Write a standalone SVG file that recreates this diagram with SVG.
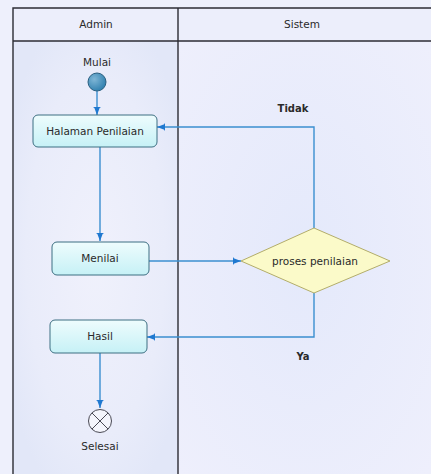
<svg xmlns="http://www.w3.org/2000/svg" width="431" height="474" viewBox="0 0 431 474">
<defs>
<style>
.lbl{font-family:"DejaVu Sans",Verdana,sans-serif;font-size:10.5px;fill:#2a2a2a;text-anchor:middle}
.bold{font-weight:bold;font-size:10px}
.box{fill:url(#boxg);stroke:#3d6f82;stroke-width:1}
.con{fill:none;stroke:#3b8fd0;stroke-width:1.4}
.frame{fill:none;stroke:#2c2c34;stroke-width:1.4}
</style>
<linearGradient id="boxg" x1="0" y1="0" x2="0" y2="1">
<stop offset="0" stop-color="#eefcfd"/>
<stop offset="1" stop-color="#c6f1f6"/>
</linearGradient>
<radialGradient id="laneA" cx="0.5" cy="0.5" r="0.6">
<stop offset="0" stop-color="#f0f1fc"/>
<stop offset="0.7" stop-color="#e9ecfa"/>
<stop offset="1" stop-color="#e2e7f8"/>
</radialGradient>
<radialGradient id="laneB" cx="0.5" cy="0.5" r="0.7">
<stop offset="0" stop-color="#e4e9fb"/>
<stop offset="1" stop-color="#eeeffc"/>
</radialGradient>
<radialGradient id="startg" cx="0.35" cy="0.35" r="0.7">
<stop offset="0" stop-color="#7fb6d6"/>
<stop offset="1" stop-color="#2f7fae"/>
</radialGradient>
<marker id="arr" markerWidth="10" markerHeight="10" refX="8" refY="4" orient="auto" markerUnits="userSpaceOnUse">
<path d="M0,1 L8,4 L0,7 Z" fill="#1f78d0"/>
<path d="M0,0.5 L0,7.5" stroke="#1f78d0" stroke-width="1.5"/>
</marker>
</defs>
<rect width="431" height="474" fill="#eef0fc"/>
<g id="lanes">
<rect x="13" y="41" width="165" height="433" fill="url(#laneA)"/>
<rect x="178" y="41" width="253" height="433" fill="url(#laneB)"/>
<rect x="13" y="8" width="418" height="33" fill="#eceefb"/>
<path class="frame" d="M13,474 V8 H431 M13,41 H431 M178,8 V474"/>
<text class="lbl" x="96" y="28">Admin</text>
<text class="lbl" x="302" y="28">Sistem</text>
</g>
<g id="connectors">
<path class="con" d="M97,91 V115" marker-end="url(#arr)"/>
<path class="con" d="M100,147 V241" marker-end="url(#arr)"/>
<path class="con" d="M149,261 H241" marker-end="url(#arr)"/>
<path class="con" d="M314,228 V127 H157" marker-end="url(#arr)"/>
<path class="con" d="M314,293 V337 H147" marker-end="url(#arr)"/>
<path class="con" d="M100,353 V408" marker-end="url(#arr)"/>
<text class="lbl bold" x="293" y="112">Tidak</text>
<text class="lbl bold" x="303" y="360">Ya</text>
</g>
<g id="start">
<text class="lbl" x="97" y="66">Mulai</text>
<circle cx="97" cy="82" r="9" fill="url(#startg)" stroke="#2a5f80" stroke-width="1"/>
</g>
<g id="halaman">
<rect class="box" x="33" y="115" width="124" height="32" rx="5"/>
<text class="lbl" x="95" y="135">Halaman Penilaian</text>
</g>
<g id="menilai">
<rect class="box" x="52" y="242" width="97" height="33" rx="5"/>
<text class="lbl" x="100" y="262">Menilai</text>
</g>
<g id="proses">
<path d="M241,261 L314,228 L390,261 L314,293 Z" fill="#fbfac9" stroke="#b3ad6a" stroke-width="1"/>
<text class="lbl" x="315" y="265">proses penilaian</text>
</g>
<g id="hasil">
<rect class="box" x="50" y="320" width="97" height="33" rx="5"/>
<text class="lbl" x="100" y="340">Hasil</text>
</g>
<g id="end">
<circle cx="100" cy="421" r="11.5" fill="#f4f5fc" stroke="#4a4a55" stroke-width="1"/>
<path d="M92,413 L108,429 M108,413 L92,429" stroke="#4a4a55" stroke-width="1"/>
<text class="lbl" x="100" y="450">Selesai</text>
</g>
</svg>
